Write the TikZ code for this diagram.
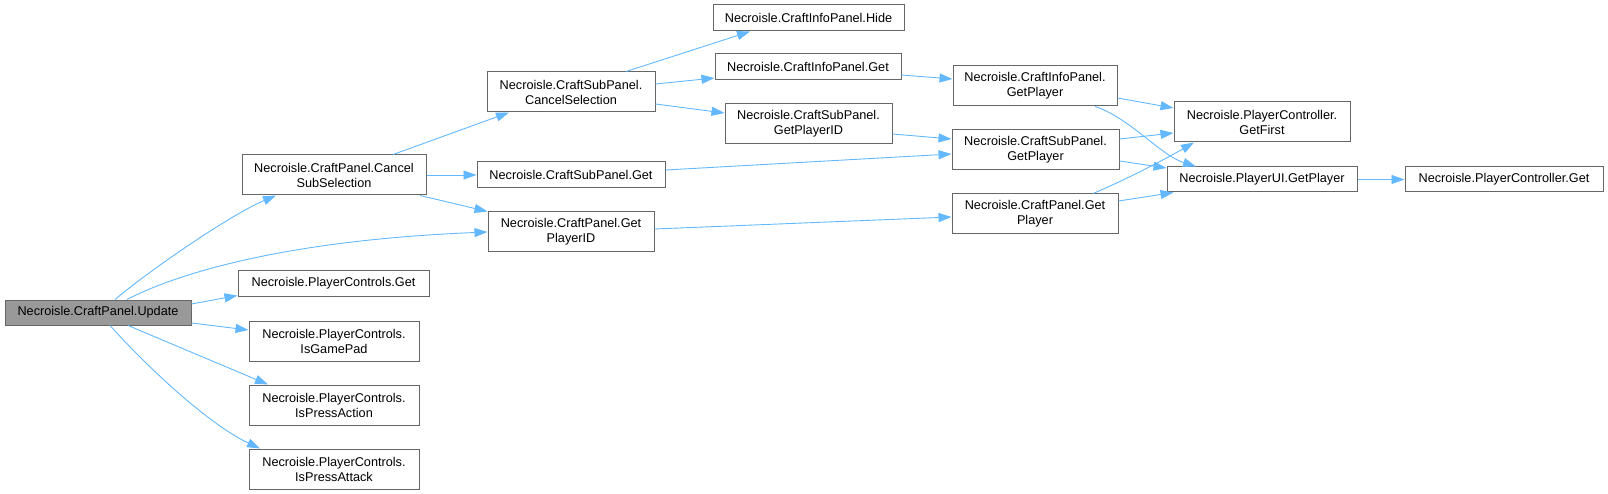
\documentclass[tikz,border=0pt]{standalone}
\usepackage{fontspec}
\setmainfont{Liberation Sans}
\usetikzlibrary{arrows.meta}
\definecolor{edgeblue}{HTML}{63B8FF}
\definecolor{boxgray}{HTML}{666666}
\definecolor{rootfill}{HTML}{999999}
\begin{document}
\begin{tikzpicture}[x=1pt,y=-1pt,
  fn/.style={draw=boxgray,line width=1pt,fill=white,inner sep=0pt,align=center,
    font=\fontsize{12.7}{15}\selectfont},
  one/.style={fn,minimum height=26pt},
  two/.style={fn,minimum height=40pt},
  root/.style={one,fill=rootfill,minimum height=25pt},
  call/.style={draw=edgeblue,line width=0.9pt,-{Triangle[length=13pt,width=9pt]}}]
\useasboundingbox (0,0) rectangle (1608,494);
% nodes
\node[root,minimum width=186pt] (upd) at (98,312.5) {Necroisle.CraftPanel.Update};
\node[two,minimum width=184pt] (css) at (334,175) {Necroisle.CraftPanel.Cancel\\SubSelection};
\node[one,minimum width=191pt,minimum height=25pt] (pcget) at (333.5,283.5) {Necroisle.PlayerControls.Get};
\node[two,minimum width=170pt] (gpad) at (334,341) {Necroisle.PlayerControls.\\IsGamePad};
\node[two,minimum width=170pt] (pact) at (334,405) {Necroisle.PlayerControls.\\IsPressAction};
\node[two,minimum width=170pt] (patt) at (334,469) {Necroisle.PlayerControls.\\IsPressAttack};
\node[two,minimum width=168pt] (csel) at (571,92) {Necroisle.CraftSubPanel.\\CancelSelection};
\node[one,minimum width=188pt] (csget) at (571,175) {Necroisle.CraftSubPanel.Get};
\node[two,minimum width=166pt] (cpgid) at (571,232) {Necroisle.CraftPanel.Get\\PlayerID};
\node[one,minimum width=191pt] (hide) at (808.5,18) {Necroisle.CraftInfoPanel.Hide};
\node[one,minimum width=186pt] (ciget) at (808,67) {Necroisle.CraftInfoPanel.Get};
\node[two,minimum width=167pt] (csgid) at (808.5,124) {Necroisle.CraftSubPanel.\\GetPlayerID};
\node[two,minimum width=164pt] (cigp) at (1035,86) {Necroisle.CraftInfoPanel.\\GetPlayer};
\node[two,minimum width=167pt] (csgp) at (1035.5,150) {Necroisle.CraftSubPanel.\\GetPlayer};
\node[two,minimum width=166pt] (cpgp) at (1035,214) {Necroisle.CraftPanel.Get\\Player};
\node[two,minimum width=176pt] (gfirst) at (1262,122) {Necroisle.PlayerController.\\GetFirst};
\node[one,minimum width=190pt,minimum height=25pt] (uigp) at (1262,179.5) {Necroisle.PlayerUI.GetPlayer};
\node[one,minimum width=198pt,minimum height=25pt] (pcg) at (1504,179.5) {Necroisle.PlayerController.Get};
% edges
\draw[call] ([xshift=17pt]upd.north) .. controls (150,270) and (230,215) .. ([xshift=-58pt]css.south);
\draw[call] ([xshift=29pt]upd.north) .. controls (180,272) and (290,240) .. (cpgid.west);
\draw[call] ([yshift=8.5pt]upd.east) -- ([yshift=1pt]pcget.south west);
\draw[call] ([yshift=-10.5pt]upd.east) -- ([yshift=11pt]gpad.west);
\draw[call] ([xshift=30pt]upd.south) -- ([xshift=-66pt]pact.north);
\draw[call] ([xshift=12pt]upd.south) .. controls (150,370) and (210,425) .. ([xshift=-74pt]patt.north);
\draw[call] ([xshift=59pt]css.north) -- ([xshift=-62pt]csel.south);
\draw[call] (css.east) -- (csget.west);
\draw[call] ([xshift=86pt]css.south) -- (cpgid.north west);
\draw[call] ([xshift=55pt]csel.north) -- ([xshift=-58.5pt]hide.south);
\draw[call] ([yshift=8pt]csel.east) -- ([yshift=-11pt]ciget.west);
\draw[call] ([yshift=-12pt]csel.east) -- ([yshift=11pt]csgid.west);
\draw[call] ([yshift=5pt]csget.east) -- ([yshift=-4pt]csgp.west);
\draw[call] ([yshift=3pt]cpgid.east) -- ([yshift=-3pt]cpgp.west);
\draw[call] ([yshift=-8pt]ciget.east) -- ([yshift=7pt]cigp.west);
\draw[call] ([yshift=-10pt]csgid.east) -- ([yshift=11pt]csgp.west);
\draw[call] ([yshift=-12pt]cigp.east) -- ([yshift=14pt]gfirst.west);
\draw[call] ([xshift=60pt]cigp.south) .. controls (1130,118) and (1160,155) .. ([xshift=-66pt]uigp.north);
\draw[call] ([yshift=11pt]csgp.east) -- ([yshift=-11pt]gfirst.west);
\draw[call] ([yshift=-11pt]csgp.east) -- ([yshift=11.5pt]uigp.west);
\draw[call] ([xshift=58pt]cpgp.north) .. controls (1125,180) and (1160,162) .. ([xshift=-68pt]gfirst.south);
\draw[call] ([yshift=13pt]cpgp.east) -- ([xshift=7pt]uigp.south west);
\draw[call] (uigp.east) -- (pcg.west);
\end{tikzpicture}
\end{document}
